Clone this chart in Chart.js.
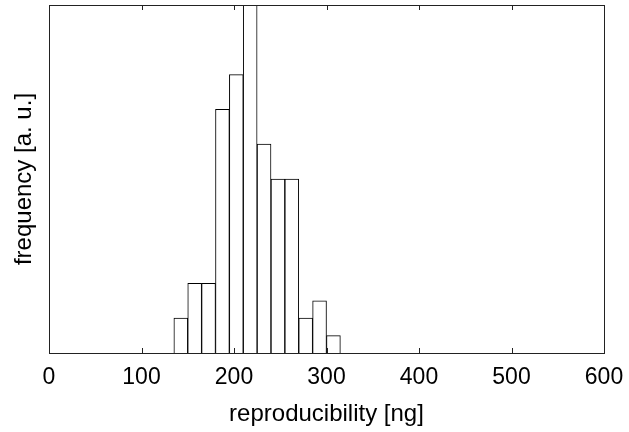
<!DOCTYPE html>
<html>
<head>
<meta charset="utf-8">
<script src="https://cdn.jsdelivr.net/npm/chart.js@4.4.1/dist/chart.umd.min.js"></script>
<style>
  html, body { margin: 0; padding: 0; background: #fff; }
  #wrap { width: 629px; height: 432px; }
</style>
</head>
<body>
<div id="wrap"><canvas id="histChart"></canvas></div>
<script>
// Histogram bins (15 ng wide)
const binCenters = [142.5, 157.5, 172.5, 187.5, 202.5, 217.5, 232.5, 247.5, 262.5, 277.5, 292.5, 307.5];
const binCounts = [2, 4, 4, 14, 16, 20, 12, 10, 10, 2, 3, 1];
const xTicks = [0, 100, 200, 300, 400, 500, 600];

const FONT = "'Liberation Sans', Arial, sans-serif";

// box around the plot + inward ticks on top and bottom
const frameTicks = {
    id: 'frameTicks',
    afterDraw(chart) {
        const c = chart.ctx;
        const a = chart.chartArea;
        const x = chart.scales.x;
        c.save();
        c.strokeStyle = '#222';
        c.lineWidth = 1;
        c.strokeRect(Math.round(a.left) + 0.5, Math.round(a.top) + 0.5,
            Math.round(a.right - a.left), Math.round(a.bottom - a.top));
        c.beginPath();
        xTicks.forEach(v => {
            const px = Math.round(x.getPixelForValue(v)) + 0.5;
            c.moveTo(px, a.top);
            c.lineTo(px, a.top + 5);
            c.moveTo(px, a.bottom);
            c.lineTo(px, a.bottom - 5);
        });
        c.stroke();
        c.restore();
    }
};

const ctx = document.getElementById('histChart').getContext('2d');
const histChart = new Chart(ctx, {
    type: 'bar',
    data: {
        datasets: [{
            data: binCenters.map((c, i) => ({ x: c, y: binCounts[i] })),
            backgroundColor: '#fff',
            borderColor: '#000',
            borderWidth: 1,
            barPercentage: 1,
            categoryPercentage: 1
        }]
    },
    options: {
        responsive: true,
        maintainAspectRatio: false,
        animation: false,
        layout: { padding: { left: 0, right: 25, top: 5, bottom: 0 } },
        plugins: { legend: { display: false }, tooltip: { enabled: false } },
        scales: {
            x: {
                type: 'linear',
                min: 0,
                max: 600,
                offset: false,
                afterFit(scale) {
                    scale.height = 79;
                    scale.paddingLeft = 0;
                    scale.paddingRight = 0;
                },
                afterBuildTicks(scale) { scale.ticks = xTicks.map(v => ({ value: v })); },
                grid: { display: false, drawTicks: false, offset: false },
                border: { display: false },
                ticks: { color: '#000', padding: 11, font: { family: FONT, size: 23 } },
                title: {
                    display: true,
                    text: 'reproducibility [ng]',
                    color: '#000',
                    font: { family: FONT, size: 24 },
                    padding: { top: 0, bottom: 3 }
                }
            },
            y: {
                min: 0,
                max: 20,
                afterFit(scale) { scale.width = 49; },
                grid: { display: false, drawTicks: false },
                border: { display: false },
                ticks: { display: false },
                title: {
                    display: true,
                    text: 'frequency [a. u.]',
                    color: '#000',
                    font: { family: FONT, size: 24 },
                    padding: { top: 10, bottom: 0 }
                }
            }
        }
    },
    plugins: [frameTicks]
});
</script>
</body>
</html>
